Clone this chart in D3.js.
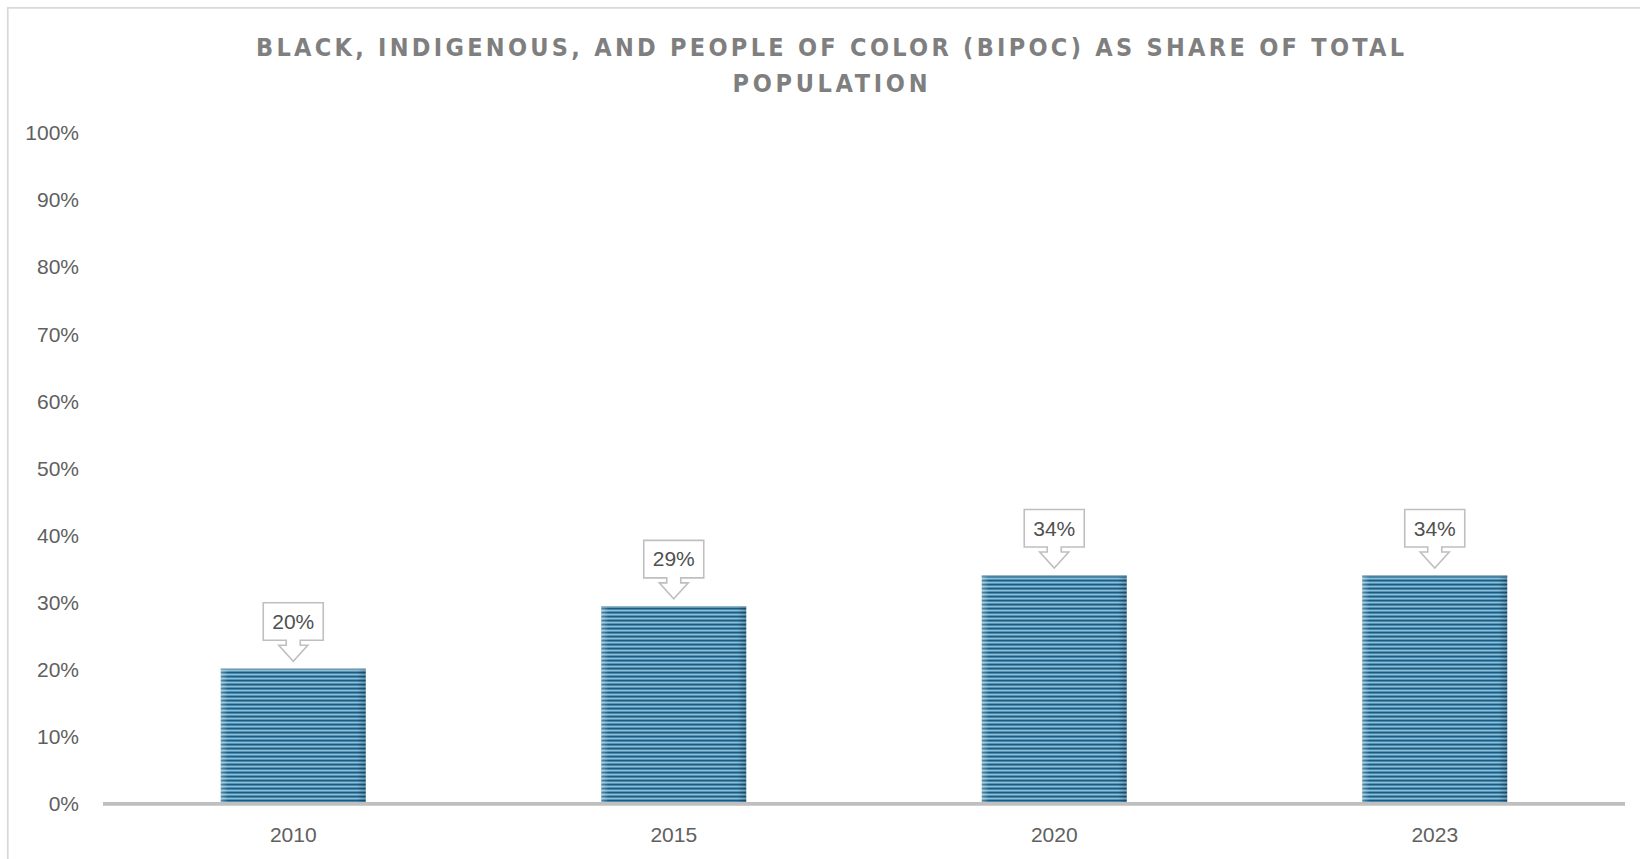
<!DOCTYPE html>
<html>
<head>
<meta charset="utf-8">
<script src="https://cdn.jsdelivr.net/npm/d3@7"></script>
<style>
  html, body { margin: 0; padding: 0; background: #ffffff; }
  svg { display: block; }
</style>
</head>
<body>
<svg id="chart" width="1640" height="859"></svg>
<script>
// ---- data ----
const titleLines = ["BLACK, INDIGENOUS, AND PEOPLE OF COLOR (BIPOC) AS SHARE OF TOTAL", "POPULATION"];
const years = ["2010", "2015", "2020", "2023"];
const bipocShare = [20.1, 29.4, 34.0, 34.0];
const yTicks = [0, 10, 20, 30, 40, 50, 60, 70, 80, 90, 100];

// ---- layout ----
const W = 1640, H = 859;
const svg = d3.select("#chart");
const fontBody = "'Liberation Sans', Arial, sans-serif";

const x = d3.scaleBand().domain(years).range([103, 1625]).paddingInner(0.619).paddingOuter(0.3095);
const y = d3.scaleLinear().domain([0, 100]).range([803.5, 133]);

// frame (clipped chart area border)
svg.append("path")
  .attr("d", `M7.75,${H} L7.75,7.75 L${W},7.75`)
  .attr("fill", "none").attr("stroke", "#d9d9d9").attr("stroke-width", 1.75);

// title
const titleSel = svg.append("g").attr("fill", "#7f7f7f")
  .attr("font-family", "'Liberation Sans Narrow', 'Arial Narrow', 'DejaVu Sans Condensed', 'Liberation Sans', sans-serif")
  .attr("font-weight", "bold").attr("font-size", 25).attr("text-anchor", "middle");
const titleLens = [1148, 195];
titleSel.selectAll("text").data(titleLines).join("text")
  .attr("x", 830)
  .attr("y", (d, i) => 55.7 + i * 35.8)
  .attr("textLength", (d, i) => titleLens[i])
  .attr("lengthAdjust", "spacing")
  .text(d => d);

// pattern for bars
const defs = svg.append("defs");
const pat = defs.append("pattern").attr("id", "stripes")
  .attr("patternUnits", "userSpaceOnUse").attr("width", 8).attr("height", 4)
  .attr("y", 803.5);
pat.append("rect").attr("width", 8).attr("height", 4).attr("fill", "#98cae2");
pat.append("rect").attr("y", 0).attr("width", 8).attr("height", 2.2).attr("fill", "#185c84");

const edge = defs.append("linearGradient").attr("id", "edgeShade").attr("x1", 0).attr("x2", 1).attr("y1", 0).attr("y2", 0);
[[0, "#ffffff", 0.3], [0.05, "#ffffff", 0], [0.94, "#000000", 0], [1, "#000000", 0.2]].forEach(s =>
  edge.append("stop").attr("offset", s[0]).attr("stop-color", s[1]).attr("stop-opacity", s[2]));

// y tick labels
svg.append("g").attr("font-family", fontBody).attr("font-size", 21).attr("fill", "#606060")
  .attr("text-anchor", "end")
  .selectAll("text").data(yTicks).join("text")
  .attr("x", 79).attr("y", d => y(d)).attr("dy", "0.35em")
  .text(d => d + "%");

// bars
const bars = svg.append("g");
bars.selectAll("rect.bar").data(bipocShare).join("rect").attr("class", "bar")
  .attr("x", (d, i) => x(years[i])).attr("width", x.bandwidth())
  .attr("y", d => y(d)).attr("height", d => y(0) - y(d))
  .attr("fill", "url(#stripes)");
bars.selectAll("rect.shade").data(bipocShare).join("rect").attr("class", "shade")
  .attr("x", (d, i) => x(years[i])).attr("width", x.bandwidth())
  .attr("y", d => y(d)).attr("height", d => y(0) - y(d))
  .attr("fill", "url(#edgeShade)");
bars.selectAll("line.top").data(bipocShare).join("line").attr("class", "top")
  .attr("x1", (d, i) => x(years[i])).attr("x2", (d, i) => x(years[i]) + x.bandwidth())
  .attr("y1", d => y(d) + 0.5).attr("y2", d => y(d) + 0.5)
  .attr("stroke", "#7fa2b8").attr("stroke-width", 1);

// x axis line
svg.append("line").attr("x1", 103).attr("x2", 1625).attr("y1", 803.8).attr("y2", 803.8)
  .attr("stroke", "#bfbfbf").attr("stroke-width", 3.7);

// x labels
svg.append("g").attr("font-family", fontBody).attr("font-size", 21).attr("fill", "#606060")
  .attr("text-anchor", "middle")
  .selectAll("text").data(years).join("text")
  .attr("x", d => x(d) + x.bandwidth() / 2).attr("y", 842)
  .text(d => d);

// callout data labels
const calloutPath = "M-30,-58.5 L30,-58.5 L30,-21 L7,-21 L7,-16 L14.5,-16 L0,0 L-14.5,-16 L-7,-16 L-7,-21 L-30,-21 Z";
const callouts = svg.append("g").selectAll("g").data(bipocShare).join("g")
  .attr("transform", (d, i) => `translate(${x(years[i]) + x.bandwidth() / 2},${y(d) - 7.5})`);
callouts.append("path").attr("d", calloutPath)
  .attr("fill", "#ffffff").attr("stroke", "#bfbfbf").attr("stroke-width", 1.6).attr("stroke-linejoin", "miter");
callouts.append("text").attr("y", -39.75).attr("dy", "0.35em")
  .attr("text-anchor", "middle").attr("font-family", fontBody).attr("font-size", 21).attr("fill", "#505050")
  .text(d => Math.round(d) + "%");
</script>
</body>
</html>
